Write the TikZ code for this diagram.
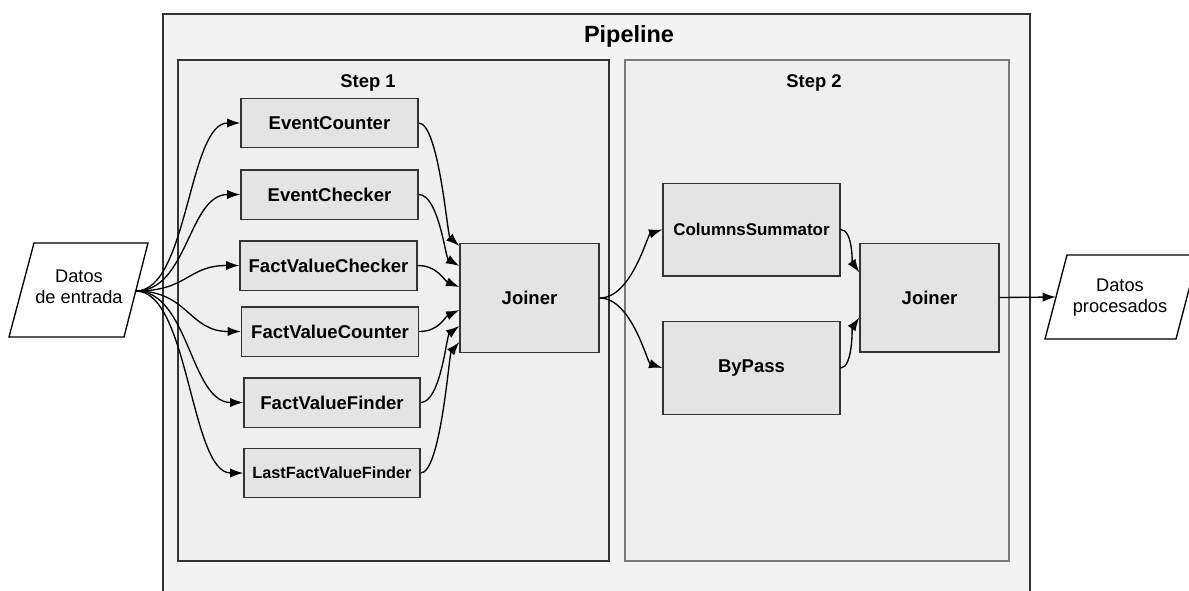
\documentclass[tikz,border=0pt]{standalone}
\usepackage{fontspec}
\setmainfont{Liberation Sans}
\usetikzlibrary{arrows.meta,calc}
\definecolor{pipefill}{HTML}{F4F4F4}
\definecolor{stepfill}{HTML}{EFEFEF}
\definecolor{boxfill}{HTML}{E4E4E4}
\definecolor{edgedark}{HTML}{333333}
\definecolor{edgelight}{HTML}{7A7A7A}
\begin{document}
\begin{tikzpicture}[x=0.75pt,y=-0.75pt,
  pipeframe/.style={draw=edgedark,line width=1pt,fill=pipefill},
  stepframe/.style={draw=edgedark,line width=1.1pt,fill=stepfill},
  steplight/.style={draw=edgelight,line width=1.1pt,fill=stepfill},
  titlebig/.style={font=\bfseries\fontsize{17.6}{20}\selectfont,anchor=base},
  titlestep/.style={font=\bfseries\fontsize{13.8}{16}\selectfont,anchor=base},
  box/.style={draw=edgedark,line width=1pt,fill=boxfill,inner sep=0pt,
    font=\bfseries\fontsize{13.9}{16}\selectfont},
  boxsmall/.style={box,font=\bfseries\fontsize{12.2}{14}\selectfont},
  boxmid/.style={box,font=\bfseries\fontsize{12.7}{14}\selectfont},
  worker/.style={minimum width=132.75pt,minimum height=37pt},
  joiner/.style={minimum width=104.25pt,minimum height=81.5pt},
  tall/.style={minimum width=132.75pt,minimum height=69.5pt},
  io/.style={draw=black,line width=1pt,fill=white},
  iotext/.style={align=center,font=\fontsize{13.7}{15.6}\selectfont},
  arr/.style={draw=black,line width=1pt,-{Latex[length=10pt,width=7pt]}}]
\useasboundingbox (0,0) rectangle (1189,590);
\clip (0,0) rectangle (1189,590);

% outer pipeline frame (runs past the lower edge)
\draw[pipeframe] (163,14) rectangle (1030,630);
\node[titlebig] (ptitle) at (629,42) {Pipeline};

% the two steps
\draw[stepframe] (178,60) rectangle (609,561);
\node[titlestep] (s1title) at (368,87) {Step 1};
\draw[steplight] (625,60) rectangle (1009,561);
\node[titlestep] (s2title) at (814,87) {Step 2};

% input and output data
\draw[io] (34,243) -- (148,243) -- (124,337) -- (9,337) -- cycle;
\node[iotext] (din) at (79,286.5) {Datos\\de entrada};
\coordinate (dout) at (136,291);

\draw[io] (1067,255) -- (1198,255) -- (1176,339) -- (1045,339) -- cycle;
\node[iotext] (dproc) at (1120,297.5) {Datos\\procesados};
\coordinate (dpin) at (1056,297);

% step 1 workers
\node[box,worker] (ec) at (329.5,123) {EventCounter};
\node[box,worker] (ech) at (329.5,194.5) {EventChecker};
\node[box,worker] (fvch) at (328.5,265.5) {FactValueChecker};
\node[box,worker] (fvco) at (330,331.5) {FactValueCounter};
\node[box,worker,minimum width=132pt] (fvf) at (332,402.5) {FactValueFinder};
\node[boxsmall,worker,minimum width=132pt] (lfvf) at (332,473) {LastFactValueFinder};
\node[box,joiner] (j) at (529.5,298) {Joiner};

% step 2 workers
\node[boxmid,tall] (cs) at (751.5,229.5) {ColumnsSummator};
\node[box,tall] (bp) at (751.5,368) {ByPass};
\node[box,joiner] (jj) at (929.5,297.5) {Joiner};

% entry points on the joiners
\coordinate (j1) at ($(j.north west)+(0,3)$);
\coordinate (j2) at ($(j.north west)+(0,23)$);
\coordinate (j3) at ($(j.north west)+(0,44)$);
\coordinate (j4) at ($(j.north west)+(0,67)$);
\coordinate (j5) at ($(j.north west)+(0,83)$);
\coordinate (j6) at ($(j.north west)+(0,99)$);
\coordinate (k1) at ($(jj.north west)+(0,30)$);
\coordinate (k2) at ($(jj.north west)+(0,75)$);

% fan-out from the input
\draw[arr] (dout) .. controls +(52,0) and +(-52,0) .. (ec.west);
\draw[arr] (dout) .. controls +(52,0) and +(-52,0) .. (ech.west);
\draw[arr] (dout) .. controls +(52,0) and +(-52,0) .. (fvch.west);
\draw[arr] (dout) .. controls +(52,0) and +(-52,0) .. (fvco.west);
\draw[arr] (dout) .. controls +(53,0) and +(-53,0) .. (fvf.west);
\draw[arr] (dout) .. controls +(53,0) and +(-53,0) .. (lfvf.west);

% fan-in to the first joiner
\draw[arr] (ec.east) .. controls +(20,0) and +(-11.9,-10.7) .. (j1);
\draw[arr] (ech.east) .. controls +(20,0) and +(-13.9,-8) .. (j2);
\draw[arr] (fvch.east) .. controls +(20,0) and +(-14.8,-6) .. (j3);
\draw[arr] (fvco.east) .. controls +(20,0) and +(-14.5,6.8) .. (j4);
\draw[arr] (fvf.east) .. controls +(20,0) and +(-12.8,9.6) .. (j5);
\draw[arr] (lfvf.east) .. controls +(20,0) and +(-10.3,12.3) .. (j6);

% step 2 wiring
\draw[arr] (j.east) .. controls +(32,0) and +(-15,5) .. (cs.west);
\draw[arr] (j.east) .. controls +(32,0) and +(-15,-5) .. (bp.west);
\draw[arr] (cs.east) .. controls +(12,0) and +(-7,-10) .. (k1);
\draw[arr] (bp.east) .. controls +(12,0) and +(-7,10) .. (k2);
\draw[arr] (jj.east) -- (dpin);
\end{tikzpicture}
\end{document}
